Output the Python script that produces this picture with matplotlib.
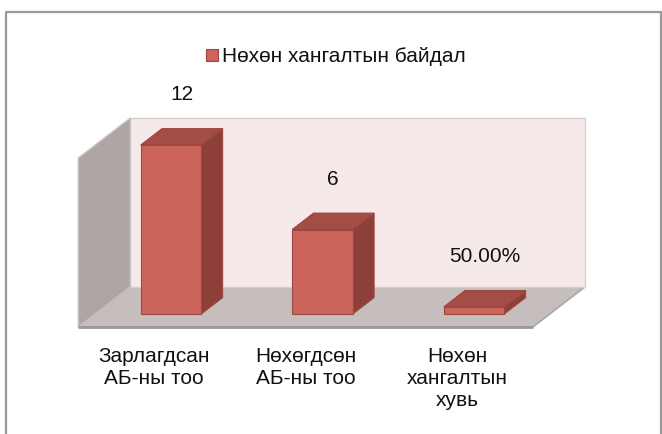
import matplotlib
matplotlib.use("Agg")
import matplotlib.pyplot as plt
import matplotlib.transforms as mtransforms
from matplotlib.patches import Polygon, Rectangle

# ---- data ----
categories = ["Зарлагдсан\nАБ-ны тоо", "Нөхөгдсөн\nАБ-ны тоо", "Нөхөн\nхангалтын\nхувь"]
values = [12, 6, 0.5]
value_labels = ["12", "6", "50.00%"]
series_name = "Нөхөн хангалтын байдал"
y_max = 12

# ---- style ----
FONT = ["Liberation Sans", "DejaVu Sans"]
plt.rcParams["font.family"] = FONT
C_FRONT = "#CB645A"
C_TOP = "#A34D45"
C_SIDE = "#8D403A"
C_EDGE = "#9E4740"
C_BACK = "#F5E9E9"
C_LEFT = "#ADA6A4"
C_FLOOR = "#C6BEBD"
C_WALL_EDGE = "#A8A8A8"

W, H = 662, 435
fig = plt.figure(figsize=(W / 100, H / 100), dpi=100)
ax = fig.add_axes([0, 0, 1, 1])
px_x = 151.5      # pixels per category
px_y = 14.08      # pixels per value unit
x0 = 171          # category 0 centre (bar front plane), px
y0 = 315          # value 0 (bar front plane), px from top
ax.set_xlim(-x0 / px_x, (W - x0) / px_x)
ax.set_ylim((y0 - H) / px_y, y0 / px_y)
ax.axis("off")

# oblique depth vector for full floor depth, in data units
DX = 52 / px_x
DY = 40 / px_y
d_front, d_back = -0.325, 0.675
bar_depth = 0.41
bar_w = 0.40
n = len(categories)


def P(x, y, d):
    return (x + d * DX, y + d * DY)


xl, xr = -0.5, n - 0.5
# floor
ax.add_patch(Polygon([P(xl, 0, d_front), P(xr, 0, d_front), P(xr, 0, d_back), P(xl, 0, d_back)],
                     closed=True, fc=C_FLOOR, ec=C_WALL_EDGE, lw=1.2, zorder=1))
# back wall
ax.add_patch(Polygon([P(xl, 0, d_back), P(xr, 0, d_back), P(xr, y_max, d_back), P(xl, y_max, d_back)],
                     closed=True, fc=C_BACK, ec="#D8D0D0", lw=1.0, zorder=1))
# left wall
ax.add_patch(Polygon([P(xl, 0, d_front), P(xl, 0, d_back), P(xl, y_max, d_back), P(xl, y_max, d_front)],
                     closed=True, fc=C_LEFT, ec="#C8C2C0", lw=1.0, zorder=1))
# floor front edge
fx = [P(xl, 0, d_front)[0], P(xr, 0, d_front)[0]]
fy = [P(xl, 0, d_front)[1]] * 2
ax.plot(fx, fy, color="#999999", lw=2, zorder=2, solid_capstyle="butt")

# bars
xs = list(range(n))
for x, v in zip(xs, values):
    side = [P(x + bar_w / 2, 0, 0), P(x + bar_w / 2, 0, bar_depth),
            P(x + bar_w / 2, v, bar_depth), P(x + bar_w / 2, v, 0)]
    top = [P(x - bar_w / 2, v, 0), P(x + bar_w / 2, v, 0),
           P(x + bar_w / 2, v, bar_depth), P(x - bar_w / 2, v, bar_depth)]
    ax.add_patch(Polygon(side, closed=True, fc=C_SIDE, ec=C_EDGE, lw=0.8, zorder=3))
    ax.add_patch(Polygon(top, closed=True, fc=C_TOP, ec=C_EDGE, lw=0.8, zorder=3))
ax.bar(xs, values, width=bar_w, bottom=0, color=C_FRONT, edgecolor=C_EDGE, linewidth=0.8, zorder=4)

# value labels
for x, v, lab in zip(xs, values, value_labels):
    ax.annotate(lab, xy=P(x, v, bar_depth / 2), xytext=(0, 31), textcoords="offset points",
                ha="center", va="center", fontsize=15, color="#111111", zorder=5)

# category labels
for x, lab in zip(xs, categories):
    ax.annotate(lab, xy=P(x, 0, d_front), xytext=(0, -14), textcoords="offset points",
                ha="center", va="top", fontsize=15, color="#111111", linespacing=1.18)

# legend
leg_x, leg_y = 206, 56  # px
ax.add_patch(Rectangle((leg_x, H - leg_y - 6), 12, 12, transform=None,
                       fc=C_FRONT, ec=C_EDGE, lw=0.8, zorder=5))
fig.text((leg_x + 16) / W, 1 - (leg_y + 1) / H, series_name, ha="left", va="center",
         fontsize=15, color="#111111")

# outer border
fig.add_artist(plt.Line2D([5.5 / W, 5.5 / W, 661 / W, 661 / W],
                          [0, 1 - 12.5 / H, 1 - 12.5 / H, 0],
                          color="#9A9A9A", lw=1.6, transform=fig.transFigure))

fig.savefig("out.png", dpi=100, facecolor="white")
